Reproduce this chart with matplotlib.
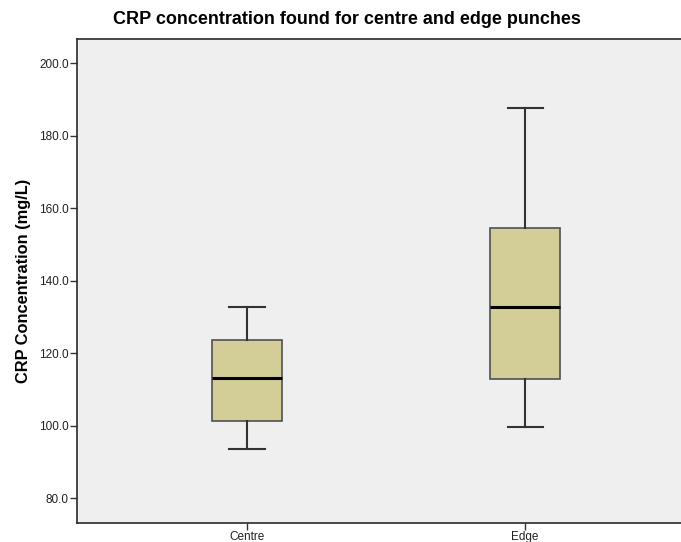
import matplotlib
matplotlib.use("Agg")
import matplotlib.pyplot as plt

categories = ["Centre", "Edge"]
whisker_low = [93.6, 99.6]
q1 = [101.3, 112.8]
median = [113.0, 132.7]
q3 = [123.6, 154.4]
whisker_high = [132.8, 187.6]
yticks = [80, 100, 120, 140, 160, 180, 200]

plt.rcParams['font.family'] = ['Liberation Sans', 'DejaVu Sans']

W, H = 681, 542
fig = plt.figure(figsize=(W / 100, H / 100), dpi=100)
fig.patch.set_facecolor('white')

left, right, top, bottom = 77, 681, 39, 522.7
ax = fig.add_axes([left / W, 1 - bottom / H, (right - left) / W, (bottom - top) / H])
ax.set_facecolor('#efefef')

stats = []
for i, c in enumerate(categories):
    stats.append(dict(label=c, whislo=whisker_low[i], q1=q1[i], med=median[i],
                      q3=q3[i], whishi=whisker_high[i], fliers=[]))

positions = list(range(len(categories)))
ax.bxp(stats, positions=positions, widths=0.252, patch_artist=True,
       showfliers=False,
       boxprops=dict(facecolor='#d3ce98', edgecolor='#505050', linewidth=1.2),
       medianprops=dict(color='black', linewidth=2.2),
       whiskerprops=dict(color='#333333', linewidth=1.5),
       capprops=dict(color='#333333', linewidth=1.5),
       capwidths=0.126)

ax.set_xlim(-0.6115, 1.561)
ax.set_ylim(73.2, 206.7)
ax.set_yticks(yticks)
ax.set_yticklabels([f"{v:.1f}" for v in yticks])
ax.set_xticks(positions)
ax.set_xticklabels(categories)

for s in ['top', 'left', 'bottom']:
    ax.spines[s].set_color('#2a2a2a')
    ax.spines[s].set_linewidth(1.2)
ax.spines['right'].set_visible(False)

ax.tick_params(axis='y', direction='out', length=5, width=1, colors='#333333',
               labelsize=8.5, labelcolor='#222222', pad=1)
ax.tick_params(axis='x', direction='out', length=5, width=1, colors='#333333',
               labelsize=8.5, labelcolor='#222222', pad=1)

ax.set_ylabel("CRP Concentration (mg/L)", fontsize=11.8, fontweight='bold',
              color='black', labelpad=6)

fig.text(347 / W, 1 - 19 / H, "CRP concentration found for centre and edge punches",
         ha='center', va='center', fontsize=13, fontweight='bold', color='black')

fig.savefig("out.png", dpi=100)
